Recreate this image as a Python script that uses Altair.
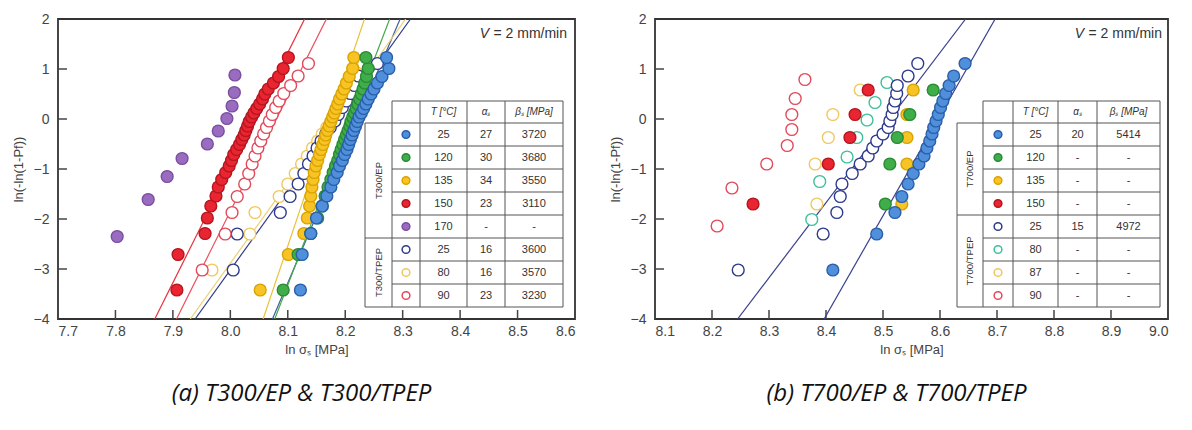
import math
import altair as alt
import pandas as pd

# ---------------- (a) T300/EP & T300/TPEP ----------------
A_Y30 = [-3.42, -2.71, -2.29, -1.98, -1.74, -1.54, -1.36, -1.21, -1.07, -0.94, -0.83, -0.71, -0.61, -0.51, -0.41,
         -0.32, -0.23, -0.14, -0.05, 0.04, 0.12, 0.21, 0.30, 0.40, 0.50, 0.60, 0.72, 0.85, 1.01, 1.23]
A_Y20 = [-3.02, -2.30, -1.87, -1.55, -1.30, -1.09, -0.90, -0.74, -0.58, -0.44, -0.30, -0.17, -0.04, 0.09, 0.23,
         0.36, 0.51, 0.67, 0.86, 1.11]
A_Y10 = [-2.35, -1.61, -1.15, -0.79, -0.50, -0.24, 0.01, 0.26, 0.53, 0.88]

A_EP25_X = [8.122, 8.125, 8.140, 8.150, 8.160, 8.168, 8.175, 8.180, 8.186, 8.190, 8.195, 8.199, 8.203, 8.206, 8.209,
            8.212, 8.215, 8.218, 8.221, 8.224, 8.228, 8.232, 8.236, 8.240, 8.245, 8.250, 8.256, 8.264, 8.276, 8.272]
A_EP120_X = [8.092, 8.118, 8.140, 8.152, 8.160, 8.165, 8.170, 8.175, 8.179, 8.183, 8.187, 8.190, 8.193, 8.196, 8.199,
             8.202, 8.205, 8.208, 8.210, 8.213, 8.216, 8.219, 8.222, 8.225, 8.228, 8.231, 8.234, 8.237, 8.240, 8.236]
A_EP135_X = [8.052, 8.101, 8.128, 8.134, 8.138, 8.140, 8.142, 8.144, 8.146, 8.149, 8.152, 8.155, 8.158, 8.161, 8.164,
             8.166, 8.169, 8.172, 8.175, 8.178, 8.181, 8.184, 8.187, 8.190, 8.194, 8.198, 8.202, 8.207, 8.213, 8.215]
A_EP150_X = [7.907, 7.909, 7.956, 7.960, 7.966, 7.975, 7.979, 7.985, 7.992, 7.998, 8.002, 8.006, 8.011, 8.016, 8.020,
             8.024, 8.027, 8.030, 8.033, 8.037, 8.041, 8.046, 8.051, 8.056, 8.060, 8.066, 8.075, 8.084, 8.092, 8.101]
A_EP170_X = [7.803, 7.857, 7.890, 7.916, 7.960, 7.979, 7.994, 8.003, 8.007, 8.008]
A_TPEP25_X = [8.005, 8.012, 8.087, 8.104, 8.118, 8.128, 8.136, 8.144, 8.151, 8.158, 8.166, 8.174, 8.182, 8.188,
              8.195, 8.202, 8.209, 8.216, 8.223, 8.256]
A_TPEP80_X = [7.968, 8.034, 8.043, 8.085, 8.100, 8.113, 8.124, 8.134, 8.143, 8.152, 8.160, 8.168, 8.176, 8.184,
              8.192, 8.200, 8.208, 8.216, 8.226, 8.232]
A_TPEP90_X = [7.951, 7.991, 8.003, 8.012, 8.025, 8.032, 8.038, 8.043, 8.048, 8.053, 8.058, 8.063, 8.068, 8.073,
              8.079, 8.085, 8.093, 8.105, 8.118, 8.136]

A_KEYS = ["EP25", "EP120", "EP135", "EP150", "EP170", "TPEP25", "TPEP80", "TPEP90"]
A_T = ["25", "120", "135", "150", "170", "25", "80", "90"]
A_ALPHA = ["27", "30", "34", "23", "-", "16", "16", "23"]
A_BETA = ["3720", "3680", "3550", "3110", "-", "3600", "3570", "3230"]
A_GROUPS = ["T300/EP", "T300/TPEP"]
A_XTICKS = [7.7, 7.8, 7.9, 8.0, 8.1, 8.2, 8.3, 8.4, 8.5, 8.6]

# ---------------- (b) T700/EP & T700/TPEP ----------------
B_Y20 = A_Y20
B_Y8 = [-2.14, -1.38, -0.90, -0.53, -0.21, 0.09, 0.41, 0.79]
B_Y7 = [-2.01, -1.25, -0.76, -0.37, -0.02, 0.33, 0.73]
B_Y5 = [-1.70, -0.90, -0.37, 0.09, 0.58]

B_EP25_X = [8.412, 8.489, 8.521, 8.533, 8.544, 8.553, 8.563, 8.572, 8.577, 8.582, 8.586, 8.589, 8.593, 8.597,
            8.601, 8.605, 8.610, 8.616, 8.624, 8.644]
B_EP120_X = [8.504, 8.512, 8.525, 8.547, 8.588]
B_EP135_X = [8.533, 8.542, 8.542, 8.542, 8.553]
B_EP150_X = [8.272, 8.404, 8.442, 8.451, 8.474]
B_TPEP25_X = [8.246, 8.395, 8.419, 8.425, 8.428, 8.446, 8.460, 8.474, 8.482, 8.489, 8.500, 8.509, 8.512, 8.516,
              8.518, 8.521, 8.524, 8.525, 8.544, 8.561]
B_TPEP80_X = [8.375, 8.389, 8.437, 8.454, 8.472, 8.486, 8.507]
B_TPEP87_X = [8.384, 8.381, 8.404, 8.412, 8.460]
B_TPEP90_X = [8.209, 8.235, 8.296, 8.332, 8.340, 8.340, 8.346, 8.363]

B_KEYS = ["EP25", "EP120", "EP135", "EP150", "TPEP25", "TPEP80", "TPEP87", "TPEP90"]
B_T = ["25", "120", "135", "150", "25", "80", "87", "90"]
B_ALPHA = ["20", "-", "-", "-", "15", "-", "-", "-"]
B_BETA = ["5414", "-", "-", "-", "4972", "-", "-", "-"]
B_GROUPS = ["T700/EP", "T700/TPEP"]
B_XTICKS = [8.1, 8.2, 8.3, 8.4, 8.5, 8.6, 8.7, 8.8, 8.9, 9.0]

# ---------------- styles ----------------
FONT = "Liberation Sans"
AXC = "#444444"
STYLE_A = {  # key: (fill, stroke, fit line colour)
    "EP25": ("#4f8fdc", "#2a5fa8", "#3d5f9c"),
    "EP120": ("#3fae49", "#2a8a35", "#47a84a"),
    "EP135": ("#f7c325", "#d9a400", "#e9c23a"),
    "EP150": ("#e82530", "#b5151f", "#e8303a"),
    "EP170": ("#9a6cc0", "#7a4ea0", "#7a4ea0"),
    "TPEP25": ("#ffffff", "#2e3a8c", "#2e3a8c"),
    "TPEP80": ("#ffffff", "#f0c860", "#eecf70"),
    "TPEP90": ("#ffffff", "#e24a5a", "#e85060"),
}
STYLE_B = {
    "EP25": ("#4f8fdc", "#2a5fa8", "#3a3f8f"),
    "EP120": ("#3fae49", "#2a8a35", "#3a3f8f"),
    "EP135": ("#f7c325", "#d9a400", "#3a3f8f"),
    "EP150": ("#e82530", "#b5151f", "#3a3f8f"),
    "TPEP25": ("#ffffff", "#2e3a8c", "#3a3f8f"),
    "TPEP80": ("#ffffff", "#3cc19a", "#3a3f8f"),
    "TPEP87": ("#ffffff", "#f0c860", "#3a3f8f"),
    "TPEP90": ("#ffffff", "#e24a5a", "#3a3f8f"),
}

H = 300
ROW_H = 23
HEAD_TOP = 82
HEAD_BOT = 104


def panel(cfg):
    W = cfg["W"]
    xs = alt.Scale(domain=cfg["xdom"], nice=False, zero=False)
    ys = alt.Scale(domain=[-4, 2], nice=False, zero=False)
    xaxis = alt.Axis(values=cfg["xticks"], format=".1f", title="ln σₛ [MPa]", ticks=False, domain=False,
                     grid=False, labelPadding=5, titlePadding=5, labelFontSize=14, titleFontSize=13,
                     labelColor=AXC, titleColor=AXC, labelFont=FONT, titleFont=FONT, titleFontWeight="normal")
    yaxis = alt.Axis(values=[-4, -3, -2, -1, 0, 1, 2], title="ln(-ln(1-Pf))", ticks=False, domain=False,
                     grid=False, labelPadding=9, titlePadding=8, labelFontSize=14, titleFontSize=13,
                     labelColor=AXC, titleColor=AXC, labelFont=FONT, titleFont=FONT, titleFontWeight="normal")

    def X(f):
        return alt.X(f, scale=xs, axis=xaxis)

    def Y(f):
        return alt.Y(f, scale=ys, axis=yaxis)

    style = cfg["style"]
    layers = []

    # inward ticks
    layers.append(alt.Chart(pd.DataFrame({"x": cfg["xticks"]})).mark_rule(color=AXC, strokeWidth=1.5).encode(
        x=X("x:Q"), y=alt.value(H), y2=alt.value(H - 9)))
    layers.append(alt.Chart(pd.DataFrame({"y": [-3, -2, -1, 0, 1]})).mark_rule(color=AXC, strokeWidth=1.5).encode(
        y=Y("y:Q"), x=alt.value(0), x2=alt.value(9)))

    # fitted Weibull lines y = alpha * (x - ln beta)
    for key, a, b in zip(cfg["keys"], cfg["alpha"], cfg["beta"]):
        if a == "-":
            continue
        al, lb = float(a), math.log(float(b))
        ldf = pd.DataFrame({"y": [-4.0, 2.0]})
        ldf["x"] = lb + ldf["y"] / al
        layers.append(alt.Chart(ldf).mark_line(color=style[key][2], strokeWidth=1.2, clip=True).encode(
            x=X("x:Q"), y=Y("y:Q")))

    # data points
    for key, xv, yv in cfg["series"]:
        fill, stroke, _ = style[key]
        pdf = pd.DataFrame({"x": xv, "y": yv})
        layers.append(alt.Chart(pdf).mark_circle(size=140, fill=fill, stroke=stroke, strokeWidth=1.4,
                                                 opacity=1, fillOpacity=1).encode(x=X("x:Q"), y=Y("y:Q")))

    # V = 2 mm/min
    layers.append(alt.Chart(pd.DataFrame({"t": ["= 2 mm/min"]})).mark_text(
        align="right", baseline="middle", font=FONT, fontSize=14, color="#333").encode(
        text="t:N", x=alt.value(cfg["vx"]), y=alt.value(15)))
    layers.append(alt.Chart(pd.DataFrame({"t": ["V"]})).mark_text(
        align="right", baseline="middle", font=FONT, fontSize=14, fontStyle="italic", color="#333").encode(
        text="t:N", x=alt.value(cfg["vx"] - 78), y=alt.value(15)))

    # ---- table ----
    c = cfg["cols"]
    nrows = len(cfg["keys"])
    bottom = HEAD_BOT + ROW_H * nrows
    one = pd.DataFrame({"a": [0]})
    layers.append(alt.Chart(one).mark_rect(fill="white").encode(
        x=alt.value(c[0]), x2=alt.value(c[5]), y=alt.value(HEAD_BOT), y2=alt.value(bottom)))
    layers.append(alt.Chart(one).mark_rect(fill="white").encode(
        x=alt.value(c[1]), x2=alt.value(c[5]), y=alt.value(HEAD_TOP), y2=alt.value(HEAD_BOT)))
    split = cfg["split"]
    lines = [dict(px=c[1], px2=c[5], py=HEAD_TOP, py2=HEAD_TOP), dict(px=c[0], px2=c[5], py=HEAD_BOT, py2=HEAD_BOT)]
    for i in range(1, nrows + 1):
        yy = HEAD_BOT + ROW_H * i
        x0 = c[0] if (i == split or i == nrows) else c[1]
        lines.append(dict(px=x0, px2=c[5], py=yy, py2=yy))
    lines.append(dict(px=c[0], px2=c[0], py=HEAD_BOT, py2=bottom))
    for k in range(1, 6):
        lines.append(dict(px=c[k], px2=c[k], py=HEAD_TOP, py2=bottom))
    layers.append(alt.Chart(pd.DataFrame(lines)).mark_rule(color="#555", strokeWidth=1).encode(
        x=alt.X("px:Q", scale=None), x2="px2:Q",
        y=alt.Y("py:Q", scale=None), y2="py2:Q"))

    # header
    head = pd.DataFrame({"t": ["T [°C]", "αₛ", "βₛ [MPa]"],
                         "px": [(c[2] + c[3]) / 2, (c[3] + c[4]) / 2, (c[4] + c[5]) / 2],
                         "py": [(HEAD_TOP + HEAD_BOT) / 2] * 3})
    layers.append(alt.Chart(head).mark_text(font=FONT, fontSize=10, fontStyle="italic", color="#333").encode(
        x=alt.X("px:Q", scale=None), y=alt.Y("py:Q", scale=None), text="t:N"))

    # body text
    ycent = [HEAD_BOT + ROW_H * i + ROW_H / 2 for i in range(nrows)]
    for col, vals in ((2, cfg["T"]), (3, cfg["alpha"]), (4, cfg["beta"])):
        tdf = pd.DataFrame({"t": vals, "py": ycent, "px": [(c[col] + c[col + 1]) / 2] * nrows})
        layers.append(alt.Chart(tdf).mark_text(font=FONT, fontSize=11, color="#333").encode(
            x=alt.X("px:Q", scale=None), y=alt.Y("py:Q", scale=None), text="t:N"))

    # symbols
    for i, key in enumerate(cfg["keys"]):
        fill, stroke, _ = style[key]
        sdf = pd.DataFrame({"px": [(c[1] + c[2]) / 2], "py": [ycent[i]]})
        layers.append(alt.Chart(sdf).mark_circle(size=60, fill=fill, stroke=stroke, strokeWidth=1.5,
                                                 opacity=1, fillOpacity=1).encode(
            x=alt.X("px:Q", scale=None), y=alt.Y("py:Q", scale=None)))

    # group labels
    g = pd.DataFrame({"t": cfg["groups"], "px": [(c[0] + c[1]) / 2] * 2,
                      "py": [HEAD_BOT + ROW_H * split / 2, HEAD_BOT + ROW_H * (split + nrows) / 2]})
    layers.append(alt.Chart(g).mark_text(font=FONT, fontSize=9.5, angle=270, color="#333").encode(
        x=alt.X("px:Q", scale=None), y=alt.Y("py:Q", scale=None), text="t:N"))

    return alt.layer(*layers).properties(
        width=W, height=H,
        title=alt.TitleParams(cfg["caption"], orient="bottom", anchor="middle", font="Open Sans",
                              fontSize=24, fontStyle="italic", fontWeight="normal", color="#111",
                              offset=26, dx=-15))


cfg_a = dict(
    W=517, xdom=[7.7, 8.6], xticks=A_XTICKS, style=STYLE_A, vx=509,
    keys=A_KEYS, T=A_T, alpha=A_ALPHA, beta=A_BETA, groups=A_GROUPS, split=5,
    cols=[307, 334, 362, 409, 447, 505],
    caption="(a) T300/EP & T300/TPEP",
    series=[("TPEP80", A_TPEP80_X, A_Y20), ("TPEP25", A_TPEP25_X, A_Y20), ("TPEP90", A_TPEP90_X, A_Y20),
            ("EP170", A_EP170_X, A_Y10), ("EP150", A_EP150_X, A_Y30), ("EP135", A_EP135_X, A_Y30),
            ("EP120", A_EP120_X, A_Y30), ("EP25", A_EP25_X, A_Y30)],
)
cfg_b = dict(
    W=513, xdom=[8.1, 9.0], xticks=B_XTICKS, style=STYLE_B, vx=507,
    keys=B_KEYS, T=B_T, alpha=B_ALPHA, beta=B_BETA, groups=B_GROUPS, split=4,
    cols=[302, 328, 358, 403, 442, 505],
    caption="(b) T700/EP & T700/TPEP",
    series=[("TPEP90", B_TPEP90_X, B_Y8), ("TPEP87", B_TPEP87_X, B_Y5), ("TPEP80", B_TPEP80_X, B_Y7),
            ("TPEP25", B_TPEP25_X, B_Y20), ("EP150", B_EP150_X, B_Y5), ("EP135", B_EP135_X, B_Y5),
            ("EP120", B_EP120_X, B_Y5), ("EP25", B_EP25_X, B_Y20)],
)

chart = alt.hconcat(panel(cfg_a), panel(cfg_b), spacing=80, bounds="flush").configure_view(
    stroke="#333333", strokeWidth=1.8).properties(
    padding={"left": 3, "top": 3, "right": 0, "bottom": 0}, background="white")

chart.save("out.html", embed_options={"renderer": "svg", "actions": False})
